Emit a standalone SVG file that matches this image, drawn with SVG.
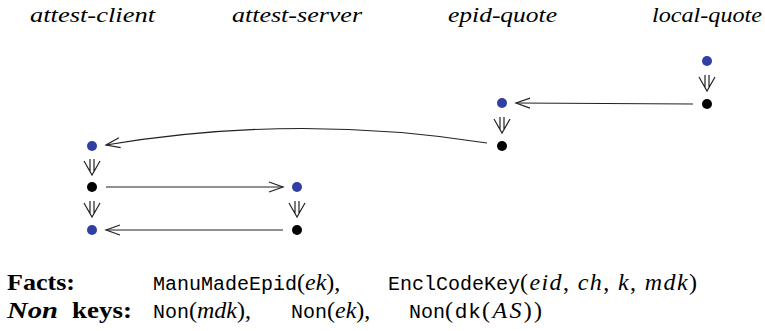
<svg xmlns="http://www.w3.org/2000/svg" width="765" height="331" viewBox="0 0 765 331">
<style>
.title{font-family:"Liberation Serif",serif;font-style:italic;font-size:22px;fill:#000}
.bold{font-family:"Liberation Serif",serif;font-weight:bold;font-size:23px}
.mono{font-family:"Liberation Mono",monospace;font-size:20px}
.rm{font-family:"Liberation Serif",serif;font-size:24px}
.it{font-family:"Liberation Serif",serif;font-style:italic;font-size:24px}
.sf{font-family:"Liberation Sans",sans-serif;font-size:21px}
.blue{fill:#2f3fa3}
.black{fill:#000}
.edge{fill:none;stroke:#222;stroke-width:1.2}
.dbl{fill:none;stroke:#222;stroke-width:1.2}
</style>
<defs>
<marker id="ah" markerUnits="userSpaceOnUse" markerWidth="20" markerHeight="14" viewBox="-16 -7 20 14" refX="0" refY="0" orient="auto">
<path d="M-14,-5 L0,0 L-14,5" fill="none" stroke="#222" stroke-width="1.2"/>
</marker>
<g id="dd">
<path class="dbl" d="M-2,-8 V5 M2,-8 V5 M-8,-6 L0,8 L8,-6"/>
</g>
</defs>

<g id="titles">
<text class="title" x="30" y="22" textLength="125" lengthAdjust="spacingAndGlyphs">attest-client</text>
<text class="title" x="232" y="22" textLength="130" lengthAdjust="spacingAndGlyphs">attest-server</text>
<text class="title" x="448" y="22" textLength="109" lengthAdjust="spacingAndGlyphs">epid-quote</text>
<text class="title" x="652" y="22" textLength="110" lengthAdjust="spacingAndGlyphs">local-quote</text>
</g>

<g id="connectors">
<path class="edge" d="M693,104 L516,103" marker-end="url(#ah)"/>
<path class="edge" d="M487,143 Q296,113 106,145" marker-end="url(#ah)"/>
<path class="edge" d="M106,187 L283,187" marker-end="url(#ah)"/>
<path class="edge" d="M283,230 L106,230" marker-end="url(#ah)"/>
<use href="#dd" x="707" y="83"/>
<use href="#dd" x="502" y="125"/>
<use href="#dd" x="92" y="167"/>
<use href="#dd" x="92" y="209"/>
<use href="#dd" x="297" y="209"/>
</g>

<g id="local-quote-1"><circle class="blue" cx="707" cy="61" r="5"/></g>
<g id="local-quote-2"><circle class="black" cx="707" cy="104" r="5"/></g>
<g id="epid-quote-1"><circle class="blue" cx="502" cy="103" r="5"/></g>
<g id="epid-quote-2"><circle class="black" cx="502" cy="146" r="5"/></g>
<g id="attest-client-1"><circle class="blue" cx="92" cy="146" r="5"/></g>
<g id="attest-client-2"><circle class="black" cx="92" cy="187" r="5"/></g>
<g id="attest-client-3"><circle class="blue" cx="92" cy="230" r="5"/></g>
<g id="attest-server-1"><circle class="blue" cx="297" cy="187" r="5"/></g>
<g id="attest-server-2"><circle class="black" cx="297" cy="230" r="5"/></g>

<g id="facts">
<text x="7" y="290" class="bold" textLength="68" lengthAdjust="spacingAndGlyphs">Facts:</text>
<text x="153" y="290" class="mono">ManuMadeEpid</text>
<text x="297" y="290"><tspan class="rm">(</tspan><tspan class="it">ek</tspan><tspan class="rm">),</tspan></text>
<text x="388" y="290" class="mono">EnclCodeKey</text>
<text x="520" y="290" textLength="177" lengthAdjust="spacing"><tspan class="rm">(</tspan><tspan class="it">eid</tspan><tspan class="rm">, </tspan><tspan class="it">ch</tspan><tspan class="rm">, </tspan><tspan class="it">k</tspan><tspan class="rm">, </tspan><tspan class="it">mdk</tspan><tspan class="rm">)</tspan></text>
<text x="7" y="318" class="bold" font-style="italic" textLength="51" lengthAdjust="spacingAndGlyphs">Non</text>
<text x="72" y="318" class="bold" textLength="60" lengthAdjust="spacingAndGlyphs">keys:</text>
<text x="153" y="318" class="mono">Non</text>
<text x="189" y="318"><tspan class="rm">(</tspan><tspan class="it">mdk</tspan><tspan class="rm">),</tspan></text>
<text x="291" y="318" class="mono">Non</text>
<text x="327" y="318"><tspan class="rm">(</tspan><tspan class="it">ek</tspan><tspan class="rm">),</tspan></text>
<text x="409" y="318" class="mono">Non</text>
<text x="445" y="318" textLength="97" lengthAdjust="spacing"><tspan class="rm">(</tspan><tspan class="sf">dk</tspan><tspan class="rm">(</tspan><tspan class="it">AS</tspan><tspan class="rm">))</tspan></text>
</g>
</svg>
